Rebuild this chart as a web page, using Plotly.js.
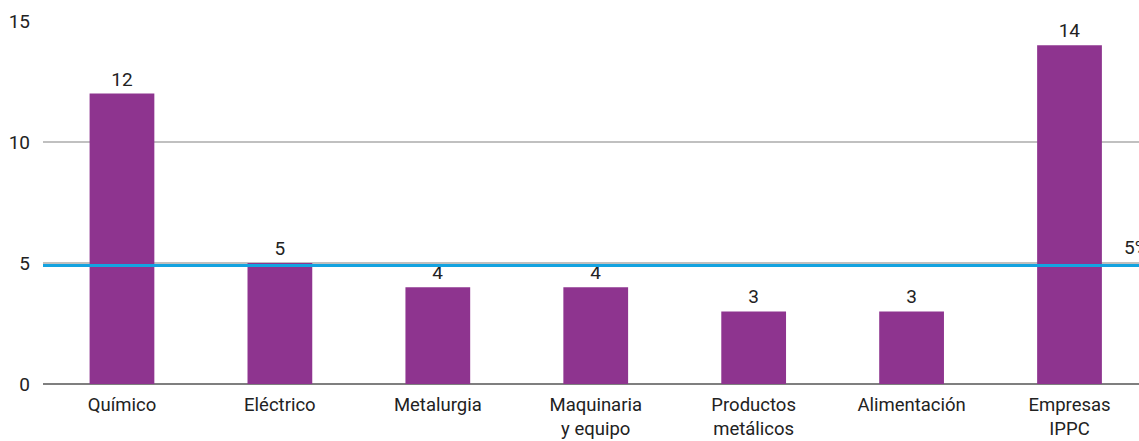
<!DOCTYPE html>
<html>
<head>
<meta charset="utf-8">
<script src="https://cdn.plot.ly/plotly-3.0.1.min.js"></script>
<style>html,body{margin:0;padding:0;overflow:hidden;background:#fff;}</style>
</head>
<body>
<div id="chart" style="width:1139px;height:441px;"></div>
<script>
const categories = ["Químico", "Eléctrico", "Metalurgia", "Maquinaria<br>y equipo", "Productos<br>metálicos", "Alimentación", "Empresas<br>IPPC"];
const values = [12, 5, 4, 4, 3, 3, 14];
const referenceValue = 4.9;
const referenceLabel = "5%";
const yTicks = [0, 5, 10, 15];

const font = {family: "Roboto, Open Sans, sans-serif", size: 19, color: "#222"};
const xFont = {family: "Roboto, Open Sans, sans-serif", size: 18.5, color: "#222"};

const traces = [{
  type: "bar",
  x: categories,
  y: values,
  marker: {color: "#8e348f"},
  width: 0.41,
  text: values.map(String),
  textposition: "outside",
  cliponaxis: false,
  textfont: font,
  hoverinfo: "none"
}];

const layout = {
  width: 1139, height: 441,
  margin: {l: 43, r: 0, t: 21, b: 57},
  paper_bgcolor: "#fff", plot_bgcolor: "#fff",
  font: font,
  showlegend: false,
  bargap: 0.59,
  xaxis: {
    range: [-0.5, 6.44],
    showgrid: false,
    showline: false,
    ticks: "",
    tickfont: xFont,
    ticklabelstandoff: 7,
    automargin: false
  },
  yaxis: {
    range: [0, 15],
    tickvals: yTicks,
    showgrid: true,
    gridcolor: "#c0c0c0",
    gridwidth: 1.5,
    zeroline: true,
    zerolinecolor: "#7f7f7f",
    zerolinewidth: 2,
    ticks: "",
    ticklabelstandoff: 12,
    tickfont: font,
    automargin: false
  },
  shapes: [{
    type: "line", xref: "paper", yref: "y",
    x0: 0, x1: 1, y0: referenceValue, y1: referenceValue,
    line: {color: "#13a3e0", width: 3}
  }],
  annotations: [{
    xref: "paper", yref: "y",
    x: 0.9845, y: referenceValue,
    xanchor: "left", yanchor: "bottom",
    yshift: 4,
    text: referenceLabel,
    showarrow: false,
    font: font
  }]
};

Plotly.newPlot("chart", traces, layout, {displayModeBar: false, staticPlot: true});
</script>
</body>
</html>
